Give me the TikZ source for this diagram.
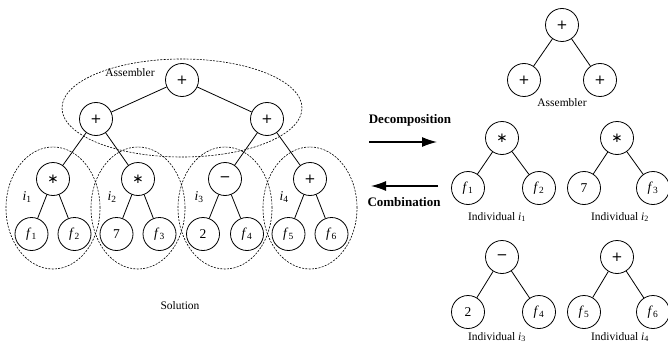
\documentclass[tikz,border=0pt]{standalone}
\usepackage{fontspec}
\setmainfont{Liberation Serif}
\newfontfamily\symf{DejaVu Sans}
\usetikzlibrary{positioning, arrows.meta, shapes.geometric}

\newcommand{\fv}[1]{\textit{f}\textsubscript{#1}}
\newcommand{\iv}[1]{\textit{i}\textsubscript{#1}}
\newcommand{\opplus}{{\symf +}}
\newcommand{\optimes}{{\symf ∗}}
\newcommand{\opminus}{{\symf −}}

\begin{document}
\begin{tikzpicture}[x=1pt,y=-1pt,on grid,
    font=\fontsize{13.5}{15}\selectfont,
    op/.style={circle,draw,line width=0.8pt,minimum size=33pt,inner sep=0pt},
    grp/.style={ellipse,draw,dashed,dash pattern=on 2pt off 1.3pt,line width=0.6pt,inner sep=0pt},
    lbl/.style={font=\fontsize{11.5}{13}\selectfont},
    big/.style={font=\fontsize{13}{15}\selectfont\bfseries},
    flow/.style={-{Latex[length=15pt,width=10pt]},line width=1.2pt}]
  \useasboundingbox (0,0) rectangle (668,350);

  % the solution tree
  \node[op] (rt) at (182,80) {\opplus};
  \node[op] (a1) [below left=39pt and 86pt of rt] {\opplus};
  \node[op] (a2) [below right=39pt and 85pt of rt] {\opplus};
  \node[op] (m1) [below left=60pt and 43pt of a1] {\optimes};
  \node[op] (m2) [below right=60pt and 42pt of a1] {\optimes};
  \node[op] (s1) [below left=60pt and 42pt of a2] {\opminus};
  \node[op] (p1) [below right=60pt and 43pt of a2] {\opplus};
  \node[op] (f1) [below left=55pt and 21.5pt of m1] {\fv{1}};
  \node[op] (f2) [below right=55pt and 21.5pt of m1] {\fv{2}};
  \node[op] (c7) [below left=55pt and 21.5pt of m2] {7};
  \node[op] (f3) [below right=55pt and 21.5pt of m2] {\fv{3}};
  \node[op] (c2) [below left=55pt and 22pt of s1] {2};
  \node[op] (f4) [below right=55pt and 22pt of s1] {\fv{4}};
  \node[op] (f5) [below left=55pt and 21.5pt of p1] {\fv{5}};
  \node[op] (f6) [below right=55pt and 21.5pt of p1] {\fv{6}};

  \path[draw,line width=0.8pt]
    (rt) edge (a1) edge (a2)
    (a1) edge (m1) edge (m2)
    (a2) edge (s1) edge (p1)
    (m1) edge (f1) edge (f2)
    (m2) edge (c7) edge (f3)
    (s1) edge (c2) edge (f4)
    (p1) edge (f5) edge (f6);

  % groups
  \node[grp,minimum width=240pt,minimum height=98pt] (gasm) at (182,108) {};
  \node[grp,minimum width=94pt,minimum height=122pt] (g1) [below=29pt of m1] {};
  \node[grp,minimum width=94pt,minimum height=122pt] (g2) [below=29pt of m2] {};
  \node[grp,minimum width=94pt,minimum height=122pt] (g3) [below=29pt of s1] {};
  \node[grp,minimum width=94pt,minimum height=122pt] (g4) [below=29pt of p1] {};
  \node[lbl] (tasm) at (130,73) {Assembler};
  \node (l1) [below left=18pt and 26pt of m1] {\iv{1}};
  \node (l2) [below left=18pt and 26pt of m2] {\iv{2}};
  \node (l3) [below left=18pt and 26pt of s1] {\iv{3}};
  \node (l4) [below left=18pt and 26pt of p1] {\iv{4}};
  \node[lbl] (sol) at (180,306) {Solution};

  % arrows
  \coordinate (d0) at (369,142);
  \coordinate (d1) at (437,142);
  \coordinate (c0) at (438,186);
  \coordinate (c1) at (371,186);
  \draw[flow] (d0) -- (d1);
  \draw[flow] (c0) -- (c1);
  \node[big] (tdec) at (410,120) {Decomposition};
  \node[big] (tcom) at (404,202) {Combination};

  % the parts
  \node[op] (art) at (562,25) {\opplus};
  \node[op] (aa1) [below left=55pt and 38pt of art] {\opplus};
  \node[op] (aa2) [below right=55pt and 38pt of art] {\opplus};
  \node[lbl] (tasm2) at (562,103) {Assembler};

  \node[op] (im1) at (502,138) {\optimes};
  \node[op] (if1) [below left=50pt and 34pt of im1] {\fv{1}};
  \node[op] (if2) [below right=50pt and 37pt of im1] {\fv{2}};
  \node[op] (im2) at (617,138) {\optimes};
  \node[op] (ic7) [below left=50pt and 33pt of im2] {7};
  \node[op] (if3) [below right=50pt and 36pt of im2] {\fv{3}};
  \node[op] (is1) at (502,257) {\opminus};
  \node[op] (ic2) [below left=55pt and 34pt of is1] {2};
  \node[op] (if4) [below right=55pt and 37pt of is1] {\fv{4}};
  \node[op] (ip1) at (617,257) {\opplus};
  \node[op] (if5) [below left=55pt and 33pt of ip1] {\fv{5}};
  \node[op] (if6) [below right=55pt and 36pt of ip1] {\fv{6}};

  \path[draw,line width=0.8pt]
    (art) edge (aa1) edge (aa2)
    (im1) edge (if1) edge (if2)
    (im2) edge (ic7) edge (if3)
    (is1) edge (ic2) edge (if4)
    (ip1) edge (if5) edge (if6);

  \node[lbl] (n1) at (497,217) {Individual \iv{1}};
  \node[lbl] (n2) at (620,217) {Individual \iv{2}};
  \node[lbl] (n3) at (497,337) {Individual \iv{3}};
  \node[lbl] (n4) at (620,337) {Individual \iv{4}};
\end{tikzpicture}
\end{document}
